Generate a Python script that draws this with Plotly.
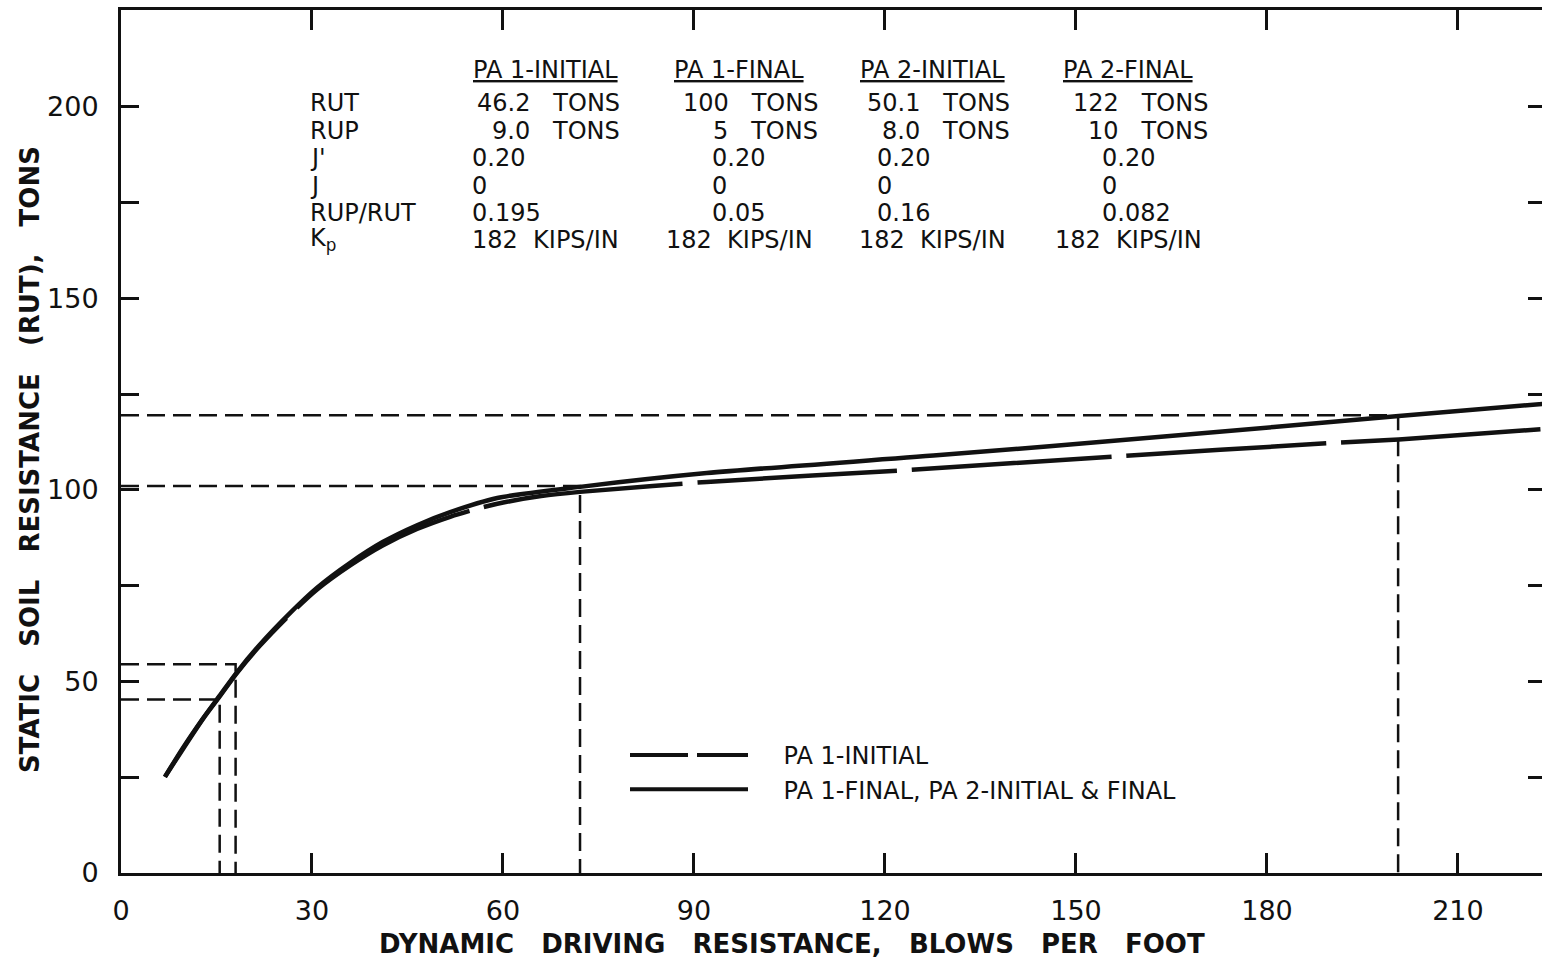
import plotly.graph_objects as go

# ---------------- data ----------------
# PA 1-FINAL, PA 2-INITIAL & FINAL (solid)
solid_x = [6.9, 9.7, 12.9, 15.5, 18.2, 21.8, 26.5, 30.8, 36.0, 41.1, 46.5, 51.7, 59.1, 72.1, 92.0, 128.6, 162.9, 200.7, 223.5]
solid_y = [25.1, 32.6, 40.4, 46.3, 52.4, 59.6, 67.8, 74.5, 81.0, 86.4, 90.8, 94.2, 97.9, 100.8, 104.4, 109.1, 113.8, 119.3, 122.5]
# PA 1-INITIAL (long dash)
dash_x = [6.9, 12.9, 15.5, 18.2, 21.8, 26.5, 30.8, 36.0, 41.1, 46.5, 51.7, 56.4, 60.6, 66.0, 72.1, 92.0, 123.5, 156.6, 191.6, 200.7, 223.5]
dash_y = [25.1, 40.3, 46.1, 52.2, 59.3, 67.4, 74.0, 80.3, 85.5, 89.8, 93.0, 95.3, 96.9, 98.4, 99.5, 102.1, 105.2, 108.8, 112.4, 113.2, 115.9]
# drop-line read-offs (blows per foot, tons)
ref_x = [15.5, 18.0, 72.1, 200.6]
ref_y = [45.3, 54.5, 101.0, 119.5]

x_ticks = [0, 30, 60, 90, 120, 150, 180, 210]
y_ticks = [0, 50, 100, 150, 200]
y_minor = [25, 75, 125, 175]
y_right = [25, 50, 75, 100, 125, 150, 175, 200]

cases = ["PA 1-INITIAL", "PA 1-FINAL", "PA 2-INITIAL", "PA 2-FINAL"]
row_labels = ["RUT", "RUP", "J'", "J", "RUP/RUT", "K<sub>p</sub>"]
rut = ["46.2", "100", "50.1", "122"]
rup = ["9.0", "5", "8.0", "10"]
jprime = ["0.20", "0.20", "0.20", "0.20"]
jval = ["0", "0", "0", "0"]
ratio = ["0.195", "0.05", "0.16", "0.082"]
kp = ["182", "182", "182", "182"]

legend_names = ["PA 1-INITIAL", "PA 1-FINAL, PA 2-INITIAL & FINAL"]

# ---------------- layout helpers ----------------
W, H = 1542, 961
L, R, T, B = 121, 0, 10, 88
PW, PH = W - L - R, H - T - B
def px(xp):
    return (xp - L) / PW
def py(yp):
    return (H - B - yp) / PH

FONT = "DejaVu Sans"
BLACK = "#111111"
NB = "\u00a0"

fig = go.Figure()

# drop lines
dx, dy = [], []
for rx, ry in zip(ref_x, ref_y):
    dx += [0, rx, rx, None]
    dy += [ry, ry, 0, None]
fig.add_trace(go.Scatter(x=dx, y=dy, mode="lines", showlegend=False, hoverinfo="skip",
                         line=dict(color=BLACK, width=2.5, dash="18px,8px")))

fig.add_trace(go.Scatter(x=dash_x, y=dash_y, mode="lines", name=legend_names[0], showlegend=False,
                         line=dict(color=BLACK, width=4.5, dash="200px,15px", shape="spline", smoothing=0.8)))
fig.add_trace(go.Scatter(x=solid_x, y=solid_y, mode="lines", name=legend_names[1], showlegend=False,
                         line=dict(color=BLACK, width=4.5, shape="spline", smoothing=0.8)))

# legend-only entries
fig.add_trace(go.Scatter(x=[None], y=[None], mode="lines", name=NB * 4 + legend_names[0],
                         line=dict(color=BLACK, width=4, dash="58px,9px")))
fig.add_trace(go.Scatter(x=[None], y=[None], mode="lines", name=NB * 4 + legend_names[1],
                         line=dict(color=BLACK, width=4)))

# helper trace for right-side tick axis
fig.add_trace(go.Scatter(x=[None], y=[None], yaxis="y2", showlegend=False, hoverinfo="skip"))

ann = []
def note(xp, yp, text, xanchor="left", font=None, **kw):
    ann.append(dict(x=px(xp), y=py(yp), xref="paper", yref="paper", text=text, showarrow=False,
                    xanchor=xanchor, yanchor="middle", font=font, **kw))

col_center = [545, 739, 932, 1128]
col_tons_right = [622, 820, 1012, 1210]
col_left = [470, 710, 875, 1100]
row_y = [103, 131, 158, 186, 213, 240]
TF = dict(family=FONT, size=24, color=BLACK)
for c, name in enumerate(cases):
    note(col_center[c], 70, "<u>" + name + "</u>", "center", TF)
    note(col_tons_right[c], row_y[0], rut[c] + NB * 3 + "TONS", "right", TF)
    note(col_tons_right[c], row_y[1], rup[c] + NB * 3 + "TONS", "right", TF)
    for r, vals in zip([2, 3, 4], [jprime, jval, ratio]):
        note(col_left[c], row_y[r], vals[c], "left", TF)
    note(col_center[c], row_y[5], kp[c] + NB * 2 + "KIPS/IN", "center", TF)
for r, lab in enumerate(row_labels):
    note(308, row_y[r], lab, "left", TF)

# axis titles
note(792, 944, "DYNAMIC" + NB * 3 + "DRIVING" + NB * 3 + "RESISTANCE," + NB * 3 + "BLOWS" + NB * 3 + "PER" + NB * 3 + "FOOT",
     "center", dict(family=FONT, size=26, color=BLACK, weight="bold"))
note(30, 460, "STATIC" + NB * 3 + "SOIL" + NB * 3 + "RESISTANCE" + NB * 3 + "(RUT)," + NB * 3 + "TONS",
     "center", dict(family=FONT, size=26, color=BLACK, weight="bold"), textangle=-90)

fig.update_layout(
    width=W, height=H,
    margin=dict(l=L, r=R, t=T, b=B, pad=0),
    paper_bgcolor="white", plot_bgcolor="white",
    font=dict(family=FONT, color=BLACK),
    showlegend=True,
    legend=dict(x=px(625), y=py(733), xanchor="left", yanchor="top",
                font=dict(family=FONT, size=24, color=BLACK),
                bgcolor="rgba(0,0,0,0)", itemwidth=118, tracegroupgap=0),
    annotations=ann,
    xaxis=dict(range=[0, 223.2], tickvals=x_ticks, ticks="inside", ticklen=20, tickwidth=2.5,
               tickcolor=BLACK, showline=True, linewidth=3, linecolor=BLACK, mirror="ticks",
               showgrid=False, zeroline=False, ticklabelstandoff=12,
               tickfont=dict(family=FONT, size=27, color=BLACK)),
    yaxis=dict(range=[0, 225.3], tickvals=y_ticks, ticks="inside", ticklen=18, tickwidth=2.5,
               tickcolor=BLACK, showline=True, linewidth=3, linecolor=BLACK, mirror=False,
               showgrid=False, zeroline=False, ticklabelstandoff=14,
               tickfont=dict(family=FONT, size=27, color=BLACK),
               minor=dict(ticks="inside", ticklen=18, tickwidth=2.5, tickcolor=BLACK,
                          tickvals=y_minor, showgrid=False)),
    yaxis2=dict(range=[0, 225.3], overlaying="y", side="right", showline=False, ticks="inside",
                ticklen=14, tickwidth=2.5, tickcolor=BLACK, tickvals=y_right, showticklabels=False,
                showgrid=False, zeroline=False),
)

fig.write_html("out.html")
